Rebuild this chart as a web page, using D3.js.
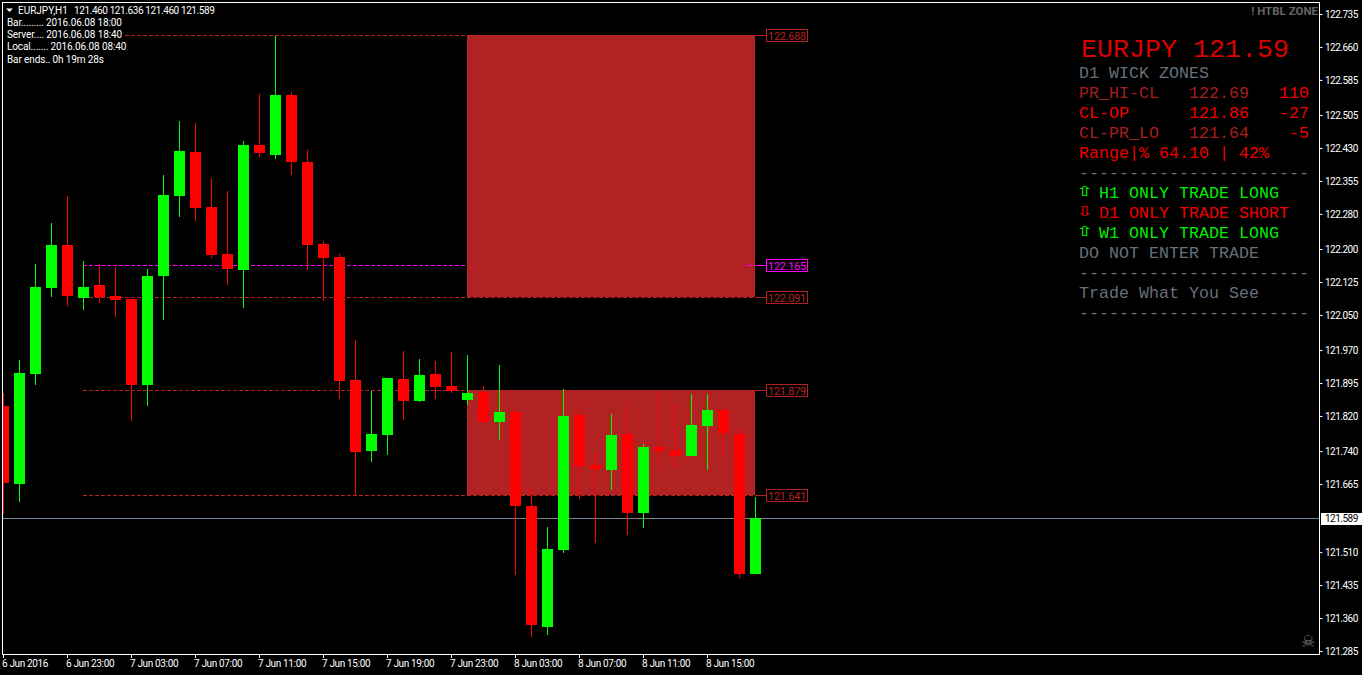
<!DOCTYPE html>
<html><head><meta charset="utf-8">
<script src="https://cdnjs.cloudflare.com/ajax/libs/d3/7.8.5/d3.min.js"></script>
<style>html,body{margin:0;padding:0;background:#000;overflow:hidden}svg{display:block}</style>
</head><body><svg id="c" width="1362" height="675"></svg>
<script>
const opens =[121.843,121.665,121.916,122.111,122.209,122.089,122.118,122.093,122.086,121.891,122.139,122.321,122.421,122.296,122.189,122.152,122.437,122.414,122.551,122.398,122.212,122.182,121.902,121.740,121.777,121.904,121.854,121.916,121.888,121.856,121.875,121.806,121.829,121.615,121.340,121.515,121.822,121.708,121.697,121.779,121.599,121.749,121.743,121.729,121.797,121.834,121.779,121.460];
const highs =[121.872,121.947,122.166,122.259,122.321,122.173,122.166,122.159,122.086,122.155,122.368,122.491,122.487,122.362,122.332,122.446,122.553,122.685,122.557,122.425,122.218,122.189,121.993,121.877,121.906,121.968,121.950,121.945,121.966,121.959,121.888,121.936,121.834,121.656,121.567,121.881,121.843,121.736,121.825,121.852,121.756,121.875,121.850,121.870,121.870,121.834,121.793,121.636];
const lows  =[121.597,121.624,121.891,122.091,122.070,122.061,122.077,122.045,121.809,121.843,122.038,122.273,122.264,122.180,122.118,122.066,122.410,122.405,122.368,122.152,122.082,121.859,121.640,121.715,121.731,121.811,121.852,121.859,121.872,121.845,121.806,121.765,121.458,121.317,121.321,121.508,121.631,121.531,121.652,121.549,121.565,121.697,121.704,121.729,121.697,121.729,121.451,121.460];
const closes=[121.667,121.918,122.114,122.209,122.093,122.114,122.091,122.084,121.891,122.139,122.323,122.423,122.293,122.186,122.155,122.437,122.419,122.551,122.398,122.209,122.180,121.900,121.738,121.779,121.906,121.854,121.913,121.886,121.877,121.872,121.806,121.829,121.615,121.344,121.517,121.820,121.706,121.699,121.777,121.599,121.749,121.740,121.729,121.799,121.834,121.781,121.460,121.589];
const priceTicks=[122.735,122.660,122.585,122.505,122.430,122.355,122.280,122.200,122.125,122.050,121.970,121.895,121.820,121.740,121.665,121.510,121.435,121.360,121.285];
const timeLabels=["6 Jun 2016","6 Jun 23:00","7 Jun 03:00","7 Jun 07:00","7 Jun 11:00","7 Jun 15:00","7 Jun 19:00","7 Jun 23:00","8 Jun 03:00","8 Jun 07:00","8 Jun 11:00","8 Jun 15:00"];
const levels=[122.688,122.165,122.091,121.879,121.641];
const levelColors=["#b22222","#ff00ff","#b22222","#b22222","#b22222"];
const zones=[[122.688,122.091],[121.879,121.641]];
const zoneFromBar=29, zoneToBar=47, levelFromBar=5;
const lastPrice=121.589;
const infoLines=["Bar......... 2016.06.08 18:00","Server.... 2016.06.08 18:40","Local....... 2016.06.08 08:40","Bar ends.. 0h 19m 28s"];
const headerName="EURJPY,H1", headerValues="121.460 121.636 121.460 121.589";
const GRAY="#66707c", DIM="#a81f1f";
const panelRows=[
 [98,0,"PR_HI-CL",DIM],[98,11,"122.69",DIM],[98,20,"110","#f00000"],
 [118,0,"CL-OP","#f00000"],[118,11,"121.86","#f00000"],[118,20,"-27","#f00000"],
 [138,0,"CL-PR_LO",DIM],[138,11,"121.64",DIM],[138,21,"-5","#f00000"],
 [158,0,"Range|% 64.10 | 42%","#f00000"],
 [78,0,"D1 WICK ZONES",GRAY],
 [178,0,"-----------------------",GRAY],
 [198,2,"H1 ONLY TRADE LONG","#00ee00"],
 [218,2,"D1 ONLY TRADE SHORT","#f00000"],
 [238,2,"W1 ONLY TRADE LONG","#00ee00"],
 [258,0,"DO NOT ENTER TRADE",GRAY],
 [278,0,"-----------------------",GRAY],
 [298,0,"Trade What You See",GRAY],
 [318,0,"-----------------------",GRAY]];
const arrows=[[197,"\u21E7","#00ff00"],[217,"\u21E9","#ff0000"],[237,"\u21E7","#00ff00"]];

const UI="Roboto,'Liberation Sans',sans-serif";
const svg=d3.select("#c");
const y=d3.scaleLinear().domain([121.285,122.735]).range([651,14]);
const x=d3.scaleLinear().domain([0,47]).range([3.5,755.5]);
const ry=v=>Math.round(y(v)+0.2);
const bars=opens.map((o,i)=>({i,o,h:highs[i],l:lows[i],c:closes[i],up:closes[i]>=o}));

svg.append("rect").attr("width",1362).attr("height",675).attr("fill","#000");
svg.append("clipPath").attr("id","plot").append("rect").attr("x",3).attr("y",3).attr("width",1316).attr("height",651);
const plot=svg.append("g").attr("clip-path","url(#plot)");

plot.append("line").attr("x1",3).attr("x2",1319).attr("y1",ry(lastPrice)+.5).attr("y2",ry(lastPrice)+.5).attr("stroke","#778899");
plot.selectAll(".lvl").data(levels).join("line").attr("class","lvl")
 .attr("x1",x(levelFromBar)-.5).attr("x2",766)
 .attr("y1",d=>ry(d)+.5).attr("y2",d=>ry(d)+.5)
 .attr("stroke",(d,i)=>levelColors[i]).attr("stroke-dasharray","4 2");
plot.selectAll(".zone").data(zones).join("rect").attr("class","zone")
 .attr("x",x(zoneFromBar)-.5).attr("width",x(zoneToBar)-x(zoneFromBar))
 .attr("y",d=>ry(d[0])).attr("height",d=>ry(d[1])-ry(d[0])).attr("fill","#b22222");
plot.selectAll(".conn").data(levels).join("line").attr("class","conn")
 .attr("x1",756).attr("x2",766).attr("y1",d=>ry(d)+.5).attr("y2",d=>ry(d)+.5)
 .attr("stroke",(d,i)=>levelColors[i]);
plot.append("line").attr("x1",743).attr("x2",752).attr("y1",ry(levels[1])+.5).attr("y2",ry(levels[1])+.5)
 .attr("stroke","#ff00ff").attr("stroke-dasharray","2 3 4");

const cg=plot.append("g");
cg.selectAll(".wick").data(bars).join("line").attr("class","wick")
 .attr("x1",d=>x(d.i)).attr("x2",d=>x(d.i))
 .attr("y1",d=>ry(d.h)).attr("y2",d=>ry(d.l))
 .attr("stroke",d=>d.up?"#00ff00":"#ff0000");
cg.selectAll(".body").data(bars).join("rect").attr("class","body")
 .attr("x",d=>x(d.i)-5.5).attr("width",11)
 .attr("y",d=>ry(Math.max(d.o,d.c))).attr("height",d=>Math.max(1,ry(Math.min(d.o,d.c))-ry(Math.max(d.o,d.c))))
 .attr("fill",d=>d.up?"#00ff00":"#ff0000");

const lb=svg.selectAll(".lb").data(levels).join("g").attr("class","lb")
 .attr("transform",d=>`translate(766,${ry(d)})`);
lb.append("rect").attr("x",.5).attr("y",-5.5).attr("width",41).attr("height",12)
 .attr("fill","#000").attr("stroke",(d,i)=>levelColors[i]);
lb.append("text").attr("x",2).attr("y",4.5).attr("font-family",UI).attr("font-size",11).attr("letter-spacing",-0.3)
 .attr("fill",(d,i)=>levelColors[i]).text(d=>d.toFixed(3));

svg.append("rect").attr("x",2.5).attr("y",2.5).attr("width",1317).attr("height",652).attr("fill","none").attr("stroke","#fff");

const yAxis=d3.axisRight(y).tickValues(priceTicks).tickSize(3).tickPadding(2.5).tickFormat(d3.format(".3f"));
const ga=svg.append("g").attr("transform","translate(1319.5,0)").call(yAxis);
ga.select(".domain").remove();
ga.selectAll("line").attr("stroke","#fff");
ga.selectAll("text").attr("fill","#fff").attr("font-family",UI).attr("font-size",10).attr("letter-spacing",-0.5).attr("dy","0.34em");

svg.append("rect").attr("x",1321).attr("y",ry(lastPrice)-5).attr("width",41).attr("height",12).attr("fill","#fff");
svg.append("text").attr("x",1325).attr("y",ry(lastPrice)+4).attr("fill","#000").attr("font-family",UI).attr("font-size",10).attr("letter-spacing",-0.5).text(lastPrice.toFixed(3));

const tg=svg.append("g");
tg.selectAll("line").data(timeLabels).join("line")
 .attr("x1",(d,i)=>x(i*4)).attr("x2",(d,i)=>x(i*4)).attr("y1",654).attr("y2",658).attr("stroke","#fff");
tg.selectAll("text").data(timeLabels).join("text")
 .attr("x",(d,i)=>x(i*4)-1.5).attr("y",667).attr("fill","#fff").attr("font-family",UI).attr("font-size",10).attr("letter-spacing",-0.35).text(d=>d);

svg.append("path").attr("d","M6,8.5h7l-3.5,3.5z").attr("fill","#fff");
svg.append("text").attr("x",18).attr("y",14).attr("fill","#fff").attr("font-family",UI).attr("font-size",10).text(headerName);
svg.append("text").attr("x",74).attr("y",14).attr("fill","#fff").attr("font-family",UI).attr("font-size",10).attr("letter-spacing",-0.4).text(headerValues);
svg.append("rect").attr("x",3).attr("y",29).attr("width",122).attr("height",13).attr("fill","#000");
svg.selectAll(".info").data(infoLines).join("text").attr("class","info")
 .attr("x",7).attr("y",(d,i)=>26+i*12.2).attr("fill","#fff").attr("font-family",UI).attr("font-size",10).attr("letter-spacing",-0.12).text(d=>d);

const MONO="'Liberation Mono',monospace";
svg.append("text").attr("x",1081).attr("y",57).attr("fill","#d80000").attr("font-family",MONO).attr("font-size",26.67).text("EURJPY 121.59");
svg.selectAll(".pr").data(panelRows).join("text").attr("class","pr")
 .attr("x",d=>1079+d[1]*10).attr("y",d=>d[0]).attr("fill",d=>d[3]).attr("font-family",MONO).attr("font-size",16.67).style("white-space","pre").text(d=>d[2]);
svg.selectAll(".ar").data(arrows).join("text").attr("class","ar")
 .attr("transform",d=>`translate(1076,${d[0]-1}) scale(1.45,1)`).attr("fill",d=>d[2]).attr("font-family","'DejaVu Sans'").attr("font-size",14).text(d=>d[1]);
svg.append("text").attr("x",1318).attr("y",15).attr("text-anchor","end").attr("fill","#666").attr("font-family",UI).attr("font-weight",700).attr("font-size",11.5).text("! HTBL ZONE");
svg.append("text").attr("x",1301).attr("y",647).attr("fill","#777").attr("font-family","'DejaVu Sans'").attr("font-size",16).text("\u2620");
</script></body></html>
